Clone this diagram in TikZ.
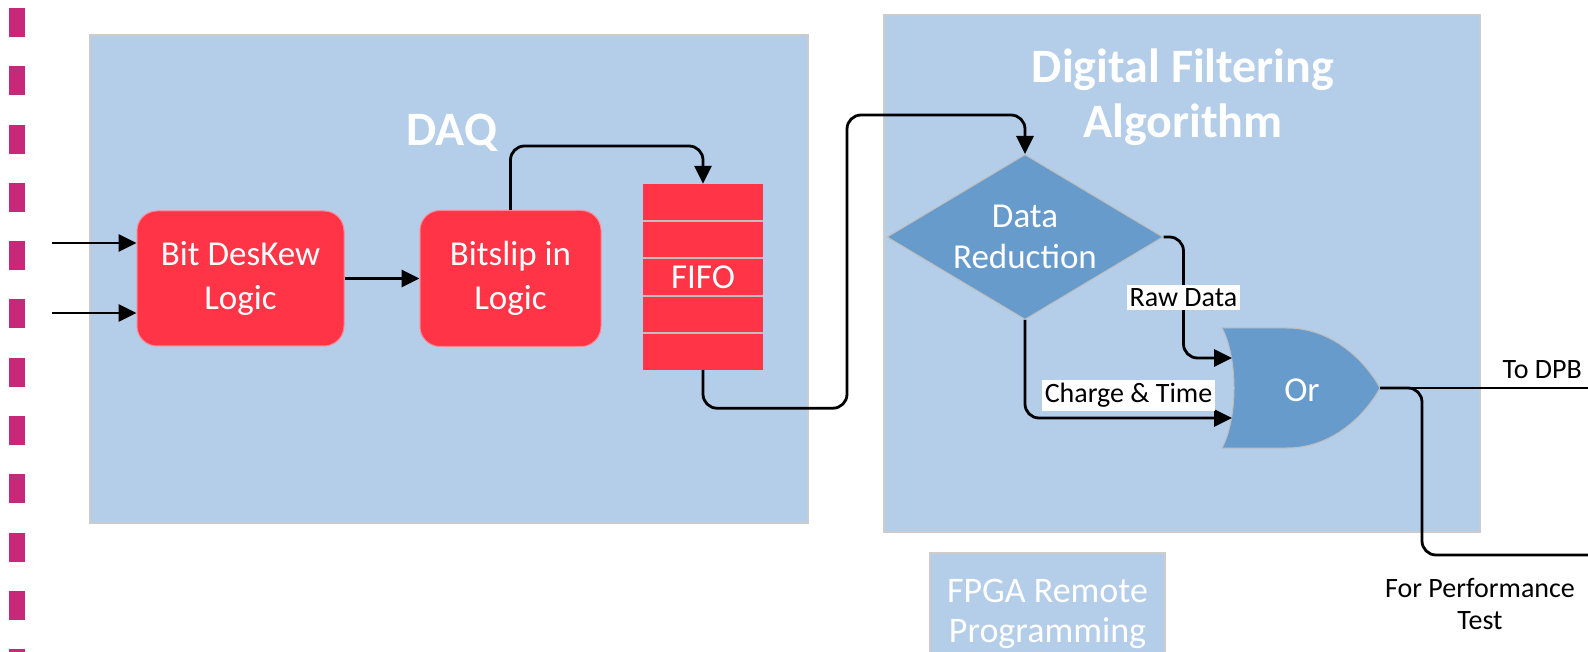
\documentclass[tikz,border=0pt]{standalone}
\usepackage{fontspec}
\setmainfont{Carlito}
\usetikzlibrary{positioning,arrows.meta,shapes.geometric,calc}

\definecolor{panelblue}{RGB}{180,205,232}
\definecolor{logicred}{RGB}{255,52,70}
\definecolor{gateblue}{RGB}{103,155,204}
\definecolor{dashpink}{RGB}{200,40,122}

\tikzset{
  panel/.style={fill=panelblue, draw=black!20, line width=1.2pt},
  logicbox/.style={rectangle, rounded corners=20pt, fill=logicred, draw=logicred!60!white,
    line width=1pt, text=white, align=center, font=\fontsize{35}{44}\selectfont},
  gateshape/.style={fill=gateblue, draw=black!25, line width=1pt},
  gatetext/.style={text=white, align=center, font=\fontsize{35}{41}\selectfont},
  flow/.style={draw, line width=2.8pt, rounded corners=14pt, -{Triangle[length=18pt,width=17pt]}},
  wire/.style={draw, line width=2.8pt, rounded corners=14pt},
  tag/.style={sharp corners, fill=white, inner sep=3pt, font=\fontsize{28}{32}\selectfont},
  plain/.style={align=center, font=\fontsize{28}{32}\selectfont},
  title/.style={text=white, font=\bfseries\fontsize{48}{55}\selectfont, align=center},
}

\begin{document}
\begin{tikzpicture}[x=1pt, y=-1pt]
  \useasboundingbox (0,0) rectangle (1588,652);
  % board edge
  \foreach \k in {0,...,11}
    \fill[dashpink] (9,8+58.3*\k) rectangle (25,37+58.3*\k);

  % panels
  \node[panel, minimum width=718pt, minimum height=488pt] (daq) at (449,279) {};
  \node[title] (daqtitle) at (452,133) {DAQ};
  \node[panel, minimum width=596pt, minimum height=517pt] (dfa) at (1182,273.5) {};
  \node[title] (dfatitle) at (1183,97) {Digital Filtering\\Algorithm};
  \node[panel, minimum width=235pt, minimum height=110pt] (fpga) at (1047.5,608) {};
  \node[gatetext, font=\fontsize{36}{40}\selectfont] (fpgatext) at (1047.5,614) {FPGA Remote\\Programming};

  % DAQ chain
  \node[logicbox, minimum width=207pt, minimum height=135pt] (deskew) at (240.5,278.5) {Bit DesKew\\Logic};
  \node[logicbox, minimum width=181pt, minimum height=136pt, right=75pt of deskew] (bitslip) {Bitslip in\\Logic};
  \node[rectangle, fill=logicred, minimum width=120pt, minimum height=186pt, gatetext] (fifo) at (703,277) {FIFO};
  \foreach \r in {1,...,4}
    \draw[black!25, line width=2pt] ($(fifo.north west)!\r/5!(fifo.south west)$) -- ($(fifo.north east)!\r/5!(fifo.south east)$);

  % filtering
  \node[diamond, gateshape, gatetext, aspect=1.67, inner sep=0pt, minimum width=276pt, minimum height=165pt] (reduce) at (1025,237) {Data\\Reduction};
  \draw[gateshape] (1222,328) -- (1287,328) .. controls (1333,328) and (1366,362) .. (1380,388)
    .. controls (1366,414) and (1333,448) .. (1287,448) -- (1222,448)
    .. controls (1238,418) and (1238,358) .. (1222,328) -- cycle;
  \node[gatetext] (orgate) at (1302,390) {Or};
  \coordinate (orin1) at (1232,358);
  \coordinate (orin2) at (1232,418);
  \coordinate (orout) at (1380,388);

  % connectors
  \coordinate (in1) at (52,243);
  \coordinate (in2) at (52,313);
  \coordinate (hop) at (847,115);
  \coordinate (todpb) at (1588,388);
  \coordinate (toperf) at (1588,555);
  \draw[flow] (in1) -- (in1 -| deskew.west);
  \draw[flow] (in2) -- (in2 -| deskew.west);
  \draw[flow] (deskew.east) -- (bitslip.west);
  \draw[flow] (bitslip.north) -- ++(0,-64) -| (fifo.north);
  \draw[flow] (fifo.south) -- ++(0,38) -| (hop) -| (reduce.north);
  \draw[flow] (reduce.east) -- ++(20,0) |- node[tag, pos=0.25] (rawtag) {Raw Data} (orin1);
  \draw[flow] (reduce.south) |- node[tag, pos=0.75, above=6pt] (chargetag) {Charge \& Time} (orin2);
  \draw[wire] (orout) -- node[plain, pos=0.78, above=5pt] (dpbtag) {To DPB} (todpb);
  \draw[wire] (orout) -- ++(42,0) |- (toperf);
  \node[plain] (perftag) at (1480,604) {For Performance\\Test};
\end{tikzpicture}
\end{document}
